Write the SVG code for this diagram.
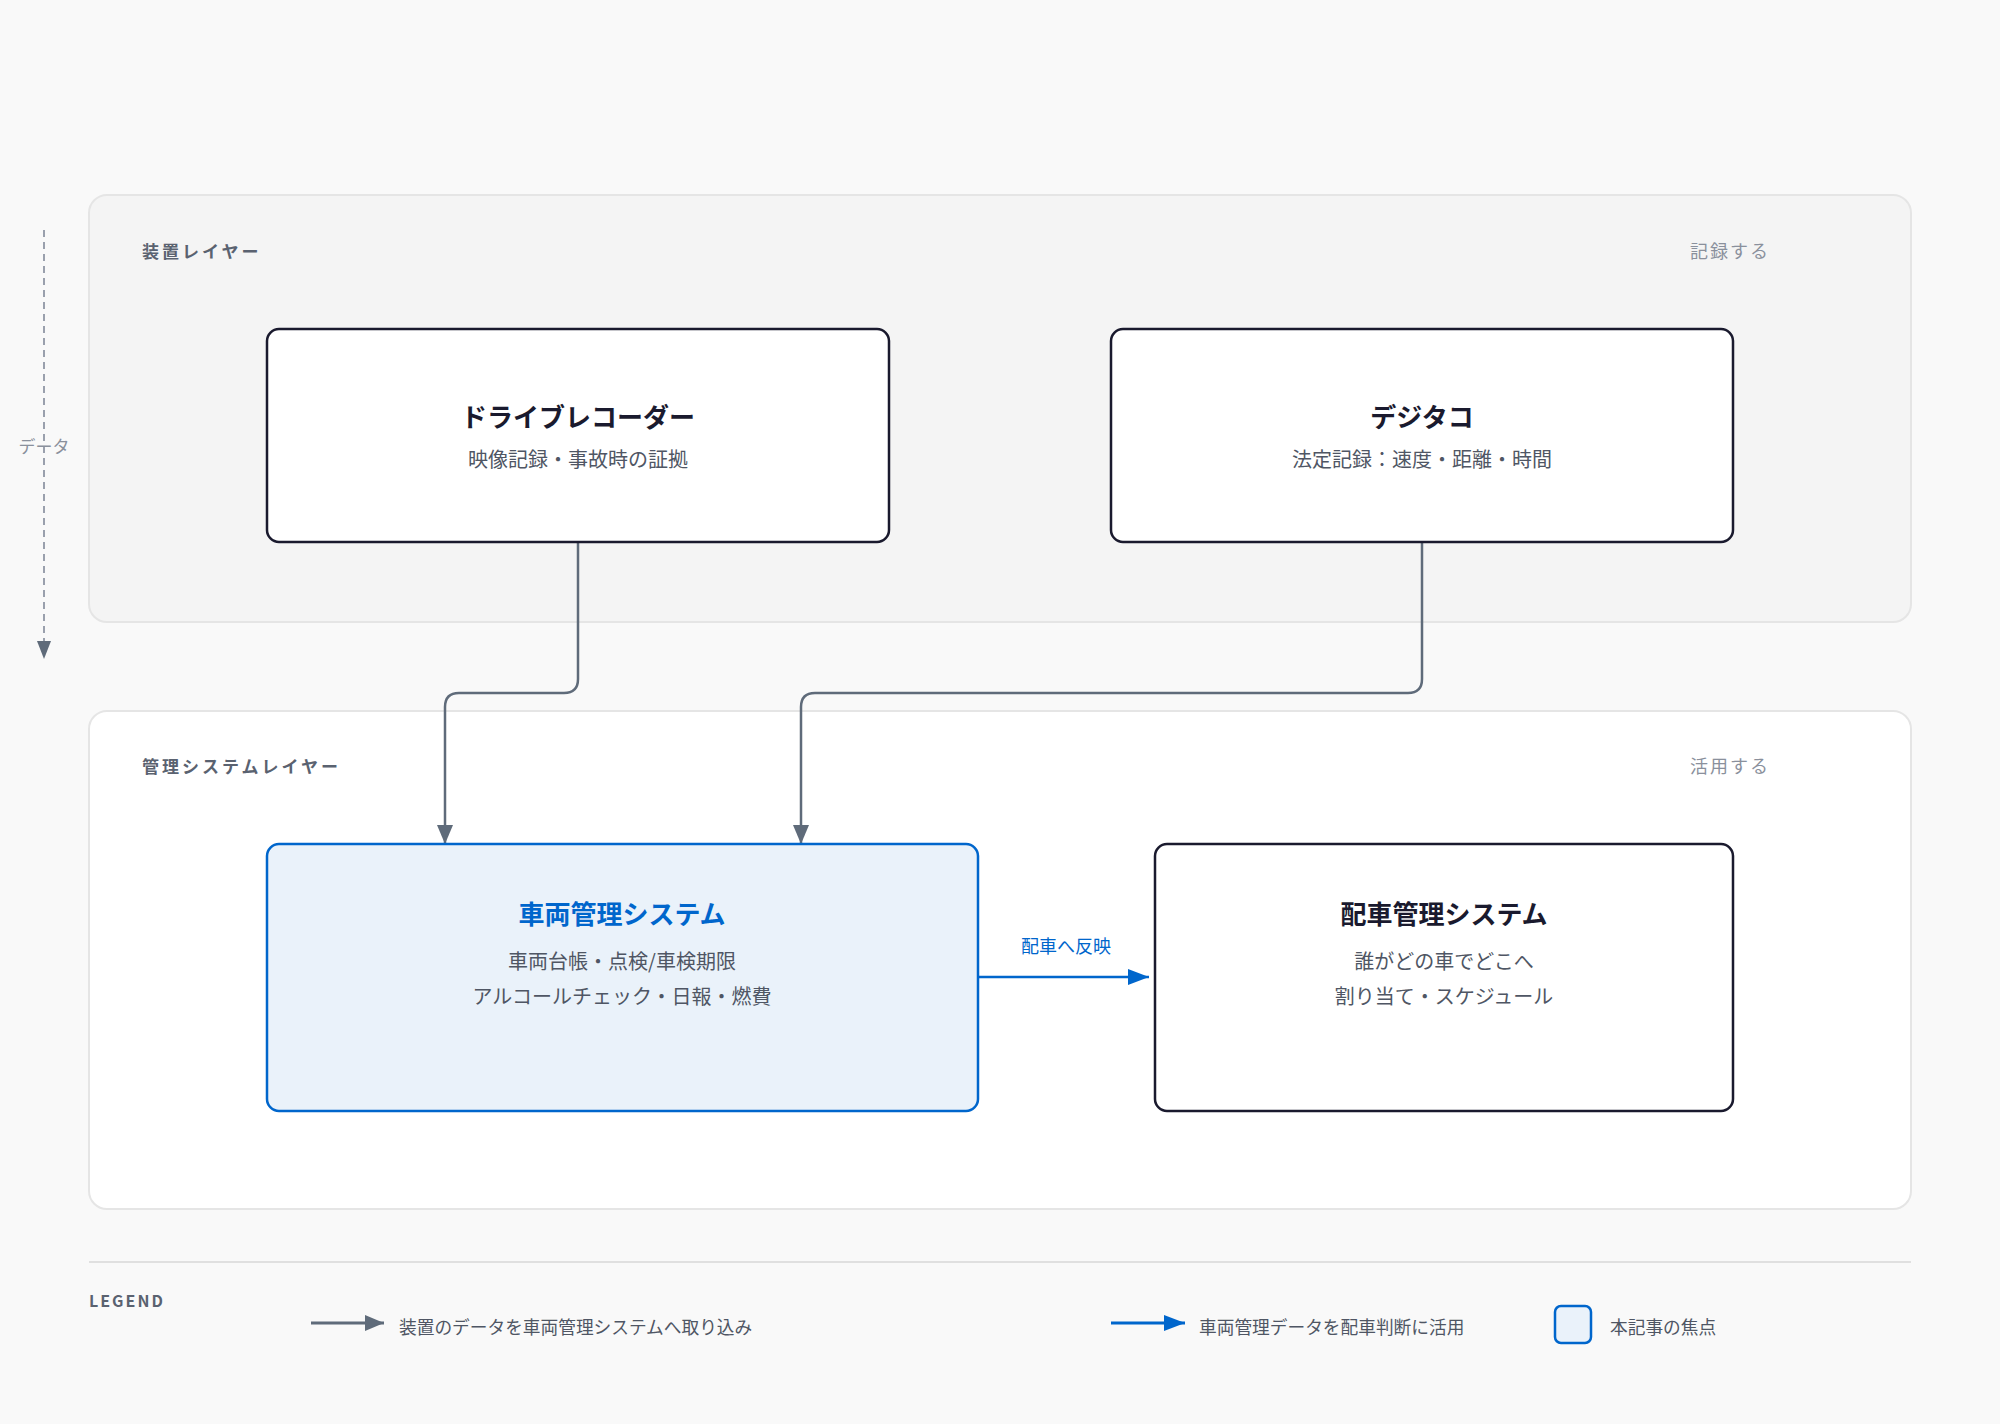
<svg xmlns="http://www.w3.org/2000/svg" width="2000" height="1424" viewBox="0 0 2000 1424">
<defs>
<style>
text{font-family:"Noto Sans CJK JP","Noto Sans",sans-serif;}
.layer-label{font-size:17px;font-weight:700;fill:#5a6270;letter-spacing:3px;}
.layer-note{font-size:18px;fill:#8a909c;letter-spacing:2px;text-anchor:end;}
.node{fill:#ffffff;stroke:#1a1a2e;stroke-width:2.5;}
.focus{fill:#eaf2fa;stroke:#0066cc;stroke-width:2.5;}
.title{font-size:26px;font-weight:700;fill:#1a1a2e;text-anchor:middle;}
.title-focus{font-size:26px;font-weight:700;fill:#0066cc;text-anchor:middle;}
.sub{font-size:20px;fill:#4f5664;text-anchor:middle;}
.conn{fill:none;stroke:#5f6b7a;stroke-width:2.5;}
.conn-blue{fill:none;stroke:#0066cc;stroke-width:2.5;}
.legend-text{font-size:17.7px;fill:#4f5664;}
.edge-label{font-size:18px;fill:#0066cc;text-anchor:middle;}
</style>
<marker id="ag" markerUnits="userSpaceOnUse" markerWidth="20" markerHeight="16" refX="19" refY="8" orient="auto" viewBox="0 0 20 16">
<path d="M0,0 L19,8 L0,16 z" fill="#5f6b7a"/>
</marker>
<marker id="ab" markerUnits="userSpaceOnUse" markerWidth="22" markerHeight="16" refX="21" refY="8" orient="auto" viewBox="0 0 22 16">
<path d="M0,0 L21,8 L0,16 z" fill="#0066cc"/>
</marker>
</defs>
<rect x="0" y="0" width="2000" height="1424" fill="#f9f9f9"/>

<g id="layer-device">
<rect x="89" y="195" width="1822" height="427" rx="18" fill="#f4f4f4" stroke="#e5e5e5" stroke-width="2"/>
<text class="layer-label" x="142" y="258">装置レイヤー</text>
<text class="layer-note" x="1770" y="258">記録する</text>
</g>

<g id="layer-system">
<rect x="89" y="711" width="1822" height="498" rx="18" fill="#ffffff" stroke="#e5e5e5" stroke-width="2"/>
<text class="layer-label" x="142" y="773">管理システムレイヤー</text>
<text class="layer-note" x="1770" y="773">活用する</text>
</g>

<g id="data-axis">
<line x1="44" y1="230" x2="44" y2="642" stroke="#9aa0ad" stroke-width="2" stroke-dasharray="7,5"/>
<path d="M37,641 L51,641 L44,659 z" fill="#5f6b7a"/>
<text x="44" y="453" font-size="17" fill="#8a909c" text-anchor="middle">データ</text>
</g>

<g id="connectors">
<path class="conn" d="M578,542 V679 Q578,693 564,693 H459 Q445,693 445,707 V844" marker-end="url(#ag)"/>
<path class="conn" d="M1422,542 V679 Q1422,693 1408,693 H815 Q801,693 801,707 V844" marker-end="url(#ag)"/>
<path class="conn-blue" d="M978,977 H1149" marker-end="url(#ab)"/>
<text class="edge-label" x="1066" y="953">配車へ反映</text>
</g>

<g id="node-dashcam">
<rect class="node" x="267" y="329" width="622" height="213" rx="12"/>
<text class="title" x="578" y="427">ドライブレコーダー</text>
<text class="sub" x="578" y="467">映像記録・事故時の証拠</text>
</g>

<g id="node-digitacho">
<rect class="node" x="1111" y="329" width="622" height="213" rx="12"/>
<text class="title" x="1422" y="427">デジタコ</text>
<text class="sub" x="1422" y="467">法定記録：速度・距離・時間</text>
</g>

<g id="node-vehicle">
<rect class="focus" x="267" y="844" width="711" height="267" rx="12"/>
<text class="title-focus" x="622" y="924">車両管理システム</text>
<text class="sub" x="622" y="969">車両台帳・点検/車検期限</text>
<text class="sub" x="622" y="1004">アルコールチェック・日報・燃費</text>
</g>

<g id="node-dispatch">
<rect class="node" x="1155" y="844" width="578" height="267" rx="12"/>
<text class="title" x="1444" y="924">配車管理システム</text>
<text class="sub" x="1444" y="969">誰がどの車でどこへ</text>
<text class="sub" x="1444" y="1004">割り当て・スケジュール</text>
</g>

<g id="legend">
<line x1="89" y1="1262" x2="1911" y2="1262" stroke="#e0e0e0" stroke-width="2"/>
<text x="89" y="1307" font-family="Liberation Sans, sans-serif" font-size="16" font-weight="700" fill="#5a6270" letter-spacing="2">LEGEND</text>
<line x1="311" y1="1323" x2="384" y2="1323" stroke="#5f6b7a" stroke-width="3" marker-end="url(#ag)"/>
<text class="legend-text" x="399" y="1334">装置のデータを車両管理システムへ取り込み</text>
<line x1="1111" y1="1323" x2="1185" y2="1323" stroke="#0066cc" stroke-width="3" marker-end="url(#ab)"/>
<text class="legend-text" x="1199" y="1334">車両管理データを配車判断に活用</text>
<rect x="1555" y="1306" width="36" height="37" rx="6" fill="#eaf2fa" stroke="#0066cc" stroke-width="2.5"/>
<text class="legend-text" x="1610" y="1334">本記事の焦点</text>
</g>
</svg>
